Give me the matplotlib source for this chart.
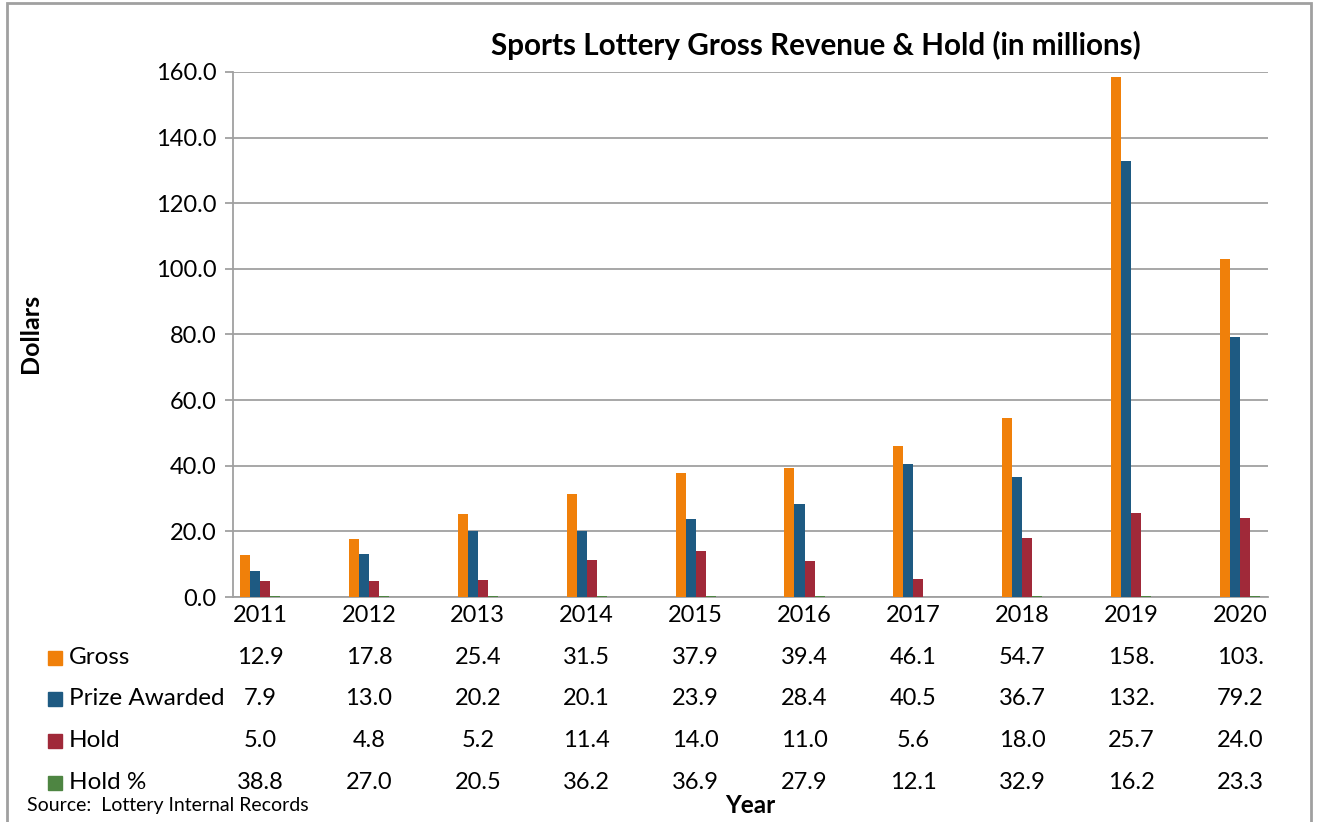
import matplotlib.pyplot as plt
import matplotlib.transforms as mtransforms
from matplotlib.patches import Rectangle
import numpy as np

years = ["2011", "2012", "2013", "2014", "2015", "2016", "2017", "2018", "2019", "2020"]
gross = [12.9, 17.8, 25.4, 31.5, 37.9, 39.4, 46.1, 54.7, 158.5, 103.1]
prize = [7.9, 13.0, 20.2, 20.1, 23.9, 28.4, 40.5, 36.7, 132.8, 79.2]
hold = [5.0, 4.8, 5.2, 11.4, 14.0, 11.0, 5.6, 18.0, 25.7, 24.0]
hold_pct = [38.8, 27.0, 20.5, 36.2, 36.9, 27.9, 12.1, 32.9, 16.2, 23.3]

series_names = ["Gross", "Prize Awarded", "Hold", "Hold %"]
colors = ["#F0800A", "#1E5A82", "#A02939", "#4E8542"]

plt.rcParams['font.family'] = ['Lato', 'DejaVu Sans']

fig = plt.figure(figsize=(13.17, 8.22), dpi=100)
ax = fig.add_axes([233 / 1317, 1 - 597 / 822, (1268 - 233) / 1317, (597 - 72) / 822])

x = np.arange(len(years))
w = 0.092
# hold % is a fraction on the dollar axis, so the bars are almost flat
heights = [gross, prize, hold, [p / 100 for p in hold_pct]]
for i, (h, c) in enumerate(zip(heights, colors)):
    ax.bar(x + (i - 1.5) * w, h, width=w, color=c, zorder=3)

ax.set_xlim(-0.248, 9.256)
ax.set_ylim(0, 160)
ax.set_yticks(np.arange(0, 161, 20))
ax.set_yticklabels([f"{v:.1f}" for v in np.arange(0, 161, 20)], fontsize=17)
ax.set_xticks(x)
ax.set_xticklabels(years, fontsize=17)
ax.yaxis.grid(True, color="#a0a0a0", linewidth=1.3, zorder=0)
ax.tick_params(axis="y", length=6, color="#a0a0a0", width=1.3, pad=6)
ax.tick_params(axis="x", length=0, pad=6)
for s in ["top", "right"]:
    ax.spines[s].set_visible(False)
for s in ["left", "bottom"]:
    ax.spines[s].set_color("#a0a0a0")
    ax.spines[s].set_linewidth(1.3)

fig.text(816 / 1317, 1 - 45 / 822, "Sports Lottery Gross Revenue & Hold (in millions)",
         fontsize=21.3, fontweight="bold", ha="center", va="center")
fig.text(30 / 1317, 1 - 333 / 822, "Dollars", rotation=90, fontsize=18,
         fontweight="bold", ha="center", va="center")

# data table under the chart
trans = mtransforms.blended_transform_factory(ax.transData, fig.transFigure)
row_y = [657, 698, 740, 782]
table_vals = [gross, prize, hold, hold_pct]
for name, c, vals, py in zip(series_names, colors, table_vals, row_y):
    fy = 1 - py / 822
    fig.patches.append(Rectangle((48 / 1317, fy - 8 / 822), 14 / 1317, 14 / 822,
                                 transform=fig.transFigure, color=c))
    fig.text(69 / 1317, fy, name, fontsize=17.5, va="center", ha="left")
    for xi, v in zip(x, vals):
        ax.text(xi, fy, f"{v:.1f}"[:4], transform=trans, fontsize=17,
                ha="center", va="center")

fig.text(750 / 1317, 1 - 805 / 822, "Year", fontsize=17.5, fontweight="bold",
         ha="center", va="center")
fig.text(27 / 1317, 1 - 805 / 822, "Source:  Lottery Internal Records", fontsize=14,
         ha="left", va="center")

fig.patches.append(Rectangle((7 / 1317, -0.01), (1311 - 7) / 1317, 1 - 3 / 822 + 0.01,
                             transform=fig.transFigure, fill=False,
                             edgecolor="#a0a0a0", linewidth=2))

fig.savefig("out.png", dpi=100)
